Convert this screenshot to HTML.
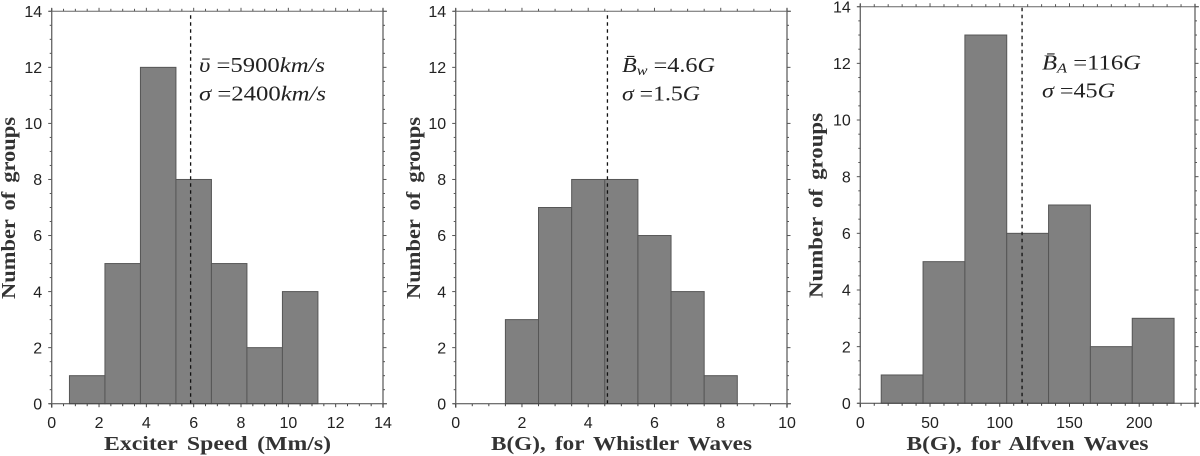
<!DOCTYPE html>
<html>
<head>
<meta charset="utf-8">
<title>Histograms of exciter speed and magnetic field</title>
<style>
html,body{margin:0;padding:0;background:#fff;width:1200px;height:456px;overflow:hidden}
svg{display:block}
.tick{font-family:"Liberation Sans",sans-serif;font-size:16px;fill:#222}
.title{font-family:"Liberation Serif",serif;font-size:20px;font-weight:bold;fill:#333;word-spacing:3px}
.math{font-family:"Liberation Serif",serif;font-size:21px;fill:#222}
.it{font-style:italic}
</style>
</head>
<body>
<svg id="figure" xmlns="http://www.w3.org/2000/svg" width="1200" height="456" viewBox="0 0 1200 456">
  <text class="math" x="199" y="72" textLength="126" lengthAdjust="spacingAndGlyphs"><tspan class="it">&#965;&#772;</tspan> =5900<tspan class="it">km/s</tspan></text>
  <text class="math" x="199" y="100.5" textLength="127" lengthAdjust="spacingAndGlyphs"><tspan class="it">&#963;</tspan> =2400<tspan class="it">km/s</tspan></text>
  <text class="math" x="622" y="72" textLength="93" lengthAdjust="spacingAndGlyphs"><tspan class="it">B&#772;</tspan><tspan class="it" font-size="14" dy="3">w</tspan><tspan dy="-3"> =4.6</tspan><tspan class="it">G</tspan></text>
  <text class="math" x="622" y="100.5" textLength="78" lengthAdjust="spacingAndGlyphs"><tspan class="it">&#963;</tspan> =1.5<tspan class="it">G</tspan></text>
  <text class="math" x="1042" y="69.5" textLength="99" lengthAdjust="spacingAndGlyphs"><tspan class="it">B&#772;</tspan><tspan class="it" font-size="14" dy="3">A</tspan><tspan dy="-3"> =116</tspan><tspan class="it">G</tspan></text>
  <text class="math" x="1042" y="97.5" textLength="73" lengthAdjust="spacingAndGlyphs"><tspan class="it">&#963;</tspan> =45<tspan class="it">G</tspan></text>
</svg>
<script>
// Panel 1: exciter speed
const speedCounts = [1, 5, 12, 8, 5, 2, 4];
const speedBinStart = 0.75;
const speedBinWidth = 1.5;
const speedMean = 5.87;
const speedXTicks = [0, 2, 4, 6, 8, 10, 12, 14];
// Panel 2: whistler field
const whistlerCounts = [3, 7, 8, 8, 6, 4, 1];
const whistlerBinStart = 1.5;
const whistlerBinWidth = 1;
const whistlerMean = 4.58;
const whistlerXTicks = [0, 2, 4, 6, 8, 10];
// Panel 3: Alfven field
const alfvenCounts = [1, 5, 13, 6, 7, 2, 3];
const alfvenBinStart = 15;
const alfvenBinWidth = 30;
const alfvenMean = 116;
const alfvenXTicks = [0, 50, 100, 150, 200];
// Shared y axis
const countTicks = [0, 2, 4, 6, 8, 10, 12, 14];

const svg = document.getElementById('figure');
const NS = 'http://www.w3.org/2000/svg';

function add(tag, attrs, name, parent) {
  const el = document.createElementNS(NS, tag);
  for (const k in attrs) el.setAttribute(k, attrs[k]);
  
  
  (parent || svg).appendChild(el);
  return el;
}

function drawPanel(p) {
  const g = add('g', {}, p.key + '-panel');
  svg.insertBefore(g, svg.firstChild);
  const sx = v => p.left + (v - 0) / p.xMax * (p.right - p.left);
  const sy = v => p.bottom - v / 14 * (p.bottom - p.top);

  // bars
  p.counts.forEach((c, i) => {
    const x0 = sx(p.binStart + i * p.binWidth);
    const x1 = sx(p.binStart + (i + 1) * p.binWidth);
    add('rect', {x: x0, y: sy(c), width: x1 - x0, height: sy(0) - sy(c), fill: '#808080', stroke: '#565656', 'stroke-width': 1}, p.key + '-bar-' + (i + 1), g);
  });

  // mean line
  add('line', {x1: sx(p.mean), x2: sx(p.mean), y1: sy(0), y2: sy(14), stroke: '#111', 'stroke-width': 1.3, 'stroke-dasharray': '3.5 3.5'}, p.key + '-mean-line', g);

  // frame
  add('line', {x1: p.left - 3, x2: p.right + 4, y1: sy(14), y2: sy(14), stroke: '#666', 'stroke-width': 1}, p.key + '-top-axis', g);
  add('line', {x1: p.left - 3, x2: p.right + 4, y1: sy(0), y2: sy(0), stroke: '#444', 'stroke-width': 1}, p.key + '-x-axis', g);
  add('line', {x1: p.left, x2: p.left, y1: sy(14) - 3, y2: sy(0) + 4, stroke: '#6e6e6e', 'stroke-width': 1.4}, p.key + '-y-axis', g);
  add('line', {x1: p.right, x2: p.right, y1: sy(14) - 3, y2: sy(0) + 4, stroke: '#6e6e6e', 'stroke-width': 1.4}, p.key + '-right-axis', g);

  // x ticks
  const lastX = p.xMax;
  for (let i = 0; i * p.xMinor <= lastX + 1e-6; i++) {
    const v = i * p.xMinor;
    const major = p.xTicks.indexOf(v) >= 0 || Math.abs(v % p.xMajor) < 1e-6;
    const len = major ? 3.5 : 2.5;
    add('line', {x1: sx(v), x2: sx(v), y1: sy(0), y2: sy(0) + len, stroke: '#444', 'stroke-width': 1}, p.key + '-x-tick', g);
    add('line', {x1: sx(v), x2: sx(v), y1: sy(14), y2: sy(14) - len, stroke: '#555', 'stroke-width': 1}, p.key + '-top-tick', g);
  }
  p.xTicks.forEach(v => {
    const t = add('text', {x: sx(v), y: 428, 'text-anchor': 'middle', class: 'tick'}, p.key + '-x-tick-label', g);
    t.textContent = v;
  });

  // y ticks
  for (let i = 0; i <= 28; i++) {
    const v = i * 0.5;
    const major = i % 4 === 0;
    const len = major ? 3.5 : 2;
    add('line', {x1: p.left, x2: p.left - len, y1: sy(v), y2: sy(v), stroke: '#555', 'stroke-width': 1}, p.key + '-y-tick', g);
    add('line', {x1: p.right, x2: p.right + len, y1: sy(v), y2: sy(v), stroke: '#555', 'stroke-width': 1}, p.key + '-right-tick', g);
  }
  countTicks.forEach(v => {
    const t = add('text', {x: p.left - 9.5, y: sy(v) + 5.7, 'text-anchor': 'end', class: 'tick'}, p.key + '-y-tick-label', g);
    t.textContent = v;
  });

  // titles
  const xt = add('text', {x: p.xTitleX, y: 450, textLength: p.xTitleLen, lengthAdjust: 'spacingAndGlyphs', class: 'title'}, p.key + '-x-axis-title', g);
  xt.textContent = p.xTitle;
  const yt = add('text', {transform: 'translate(' + p.yTitleX + ',' + p.yTitleBottom + ') rotate(-90)', x: 0, y: 0, textLength: p.yTitleLen, lengthAdjust: 'spacingAndGlyphs', class: 'title'}, p.key + '-y-axis-title', g);
  yt.textContent = 'Number of groups';
}

drawPanel({key: 'speed', counts: speedCounts, binStart: speedBinStart, binWidth: speedBinWidth, mean: speedMean,
  xTicks: speedXTicks, xMax: 14, xMinor: 0.5, xMajor: 2, left: 51.7, right: 383, top: 11.3, bottom: 403.7,
  xTitle: 'Exciter Speed (Mm/s)', xTitleX: 104, xTitleLen: 227, yTitleX: 15, yTitleBottom: 299, yTitleLen: 182});
drawPanel({key: 'whistler', counts: whistlerCounts, binStart: whistlerBinStart, binWidth: whistlerBinWidth, mean: whistlerMean,
  xTicks: whistlerXTicks, xMax: 10, xMinor: 0.5, xMajor: 2, left: 455.7, right: 787, top: 11.3, bottom: 403.7,
  xTitle: 'B(G), for Whistler Waves', xTitleX: 491, xTitleLen: 261, yTitleX: 420, yTitleBottom: 299, yTitleLen: 182});
drawPanel({key: 'alfven', counts: alfvenCounts, binStart: alfvenBinStart, binWidth: alfvenBinWidth, mean: alfvenMean,
  xTicks: alfvenXTicks, xMax: 240, xMinor: 10, xMajor: 50, left: 860.3, right: 1195, top: 6.7, bottom: 403.3,
  xTitle: 'B(G), for Alfven Waves', xTitleX: 906.5, xTitleLen: 242, yTitleX: 822.5, yTitleBottom: 298, yTitleLen: 185});
</script>
</body>
</html>
